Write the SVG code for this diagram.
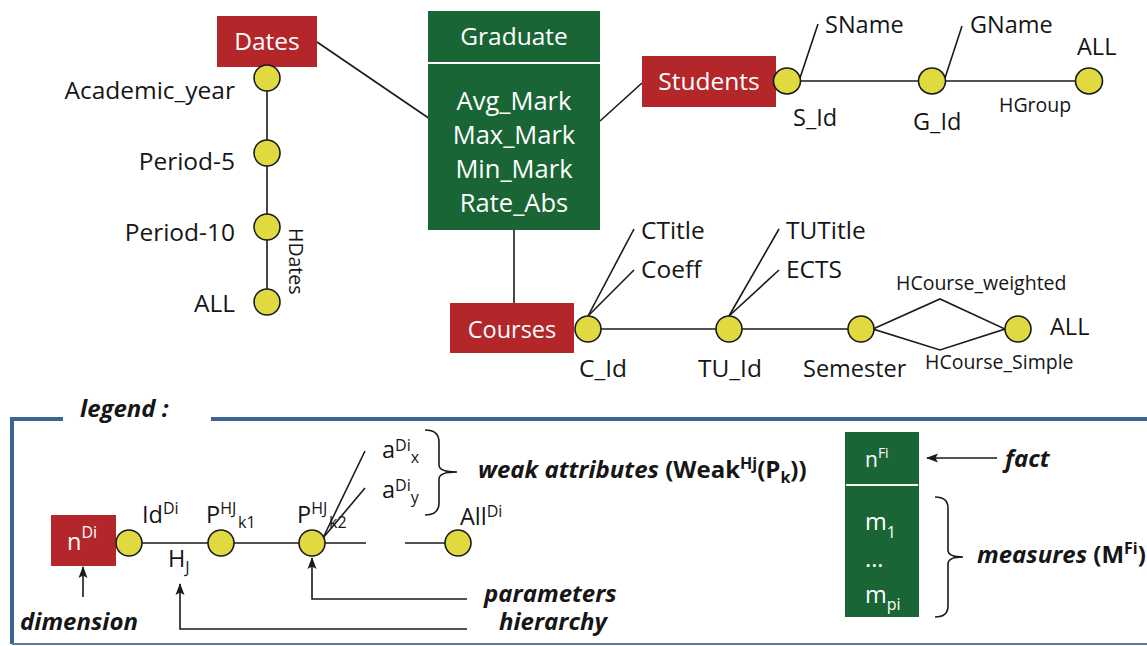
<svg xmlns="http://www.w3.org/2000/svg" width="1147" height="646" viewBox="0 0 1147 646">
<style>
text{font-family:"Open Sans","Noto Sans",sans-serif;fill:#161616}
.l{font-size:23.5px}
.lg{font-size:24.5px}
.m{font-size:25.5px}
.s{font-size:19.5px}
.w{fill:#fff}
.c{text-anchor:middle}
.e{text-anchor:end}
.bi{font-weight:bold;font-style:italic;font-size:24px}
.b{font-weight:bold;font-style:normal}
.sp{font-size:16px}
.red{fill:#b3262a}
.grn{fill:#196535}
.dot{fill:#e0da40;stroke:#1a1a1a;stroke-width:1.6}
.ln{stroke:#1a1a1a;stroke-width:1.6;fill:none}
.wl{stroke:#fff;stroke-width:2}
.leg{stroke:#3e6592;stroke-width:4;fill:none}
</style>
<defs>
<marker id="ah" markerWidth="12" markerHeight="10" refX="11" refY="5" orient="auto" markerUnits="userSpaceOnUse"><path d="M0,0.5 L12,5 L0,9.5 L2.5,5 z" fill="#1a1a1a"/></marker>
</defs>

<g id="connectors">
<line class="ln" x1="317" y1="42" x2="430" y2="119"/>
<line class="ln" x1="600" y1="121" x2="642" y2="83"/>
<line class="ln" x1="514" y1="230" x2="514" y2="303"/>
</g>

<g id="dates">
<rect class="red" x="217" y="16" width="100" height="51"/>
<text class="lg w c" x="267" y="50">Dates</text>
</g>
<g id="hdates">
<line class="ln" x1="267" y1="78" x2="267" y2="302"/>
<ellipse class="dot" cx="267" cy="78" rx="13" ry="13"/>
<ellipse class="dot" cx="267" cy="153" rx="13" ry="13"/>
<ellipse class="dot" cx="267" cy="227" rx="13" ry="13"/>
<ellipse class="dot" cx="267" cy="302" rx="13" ry="13"/>
<text class="lg e" x="235" y="99">Academic_year</text>
<text class="lg e" x="235" y="170">Period-5</text>
<text class="lg e" x="235" y="241">Period-10</text>
<text class="lg e" x="235" y="312">ALL</text>
<text class="s" transform="translate(289,228) rotate(90)">HDates</text>
</g>

<g id="graduate">
<rect class="grn" x="428" y="11" width="172" height="219"/>
<line class="wl" x1="428" y1="63" x2="600" y2="63"/>
<text class="lg w c" x="514" y="45">Graduate</text>
<text class="m w c" x="514" y="110">Avg_Mark</text>
<text class="m w c" x="514" y="144">Max_Mark</text>
<text class="m w c" x="514" y="178">Min_Mark</text>
<text class="m w c" x="514" y="212">Rate_Abs</text>
</g>

<g id="students">
<rect class="red" x="642" y="56" width="134" height="51"/>
<text class="lg w c" x="709" y="90">Students</text>
</g>
<g id="hgroup">
<line class="ln" x1="787" y1="81" x2="1089" y2="81"/>
<line class="ln" x1="800" y1="78" x2="818" y2="24"/>
<line class="ln" x1="945" y1="78" x2="962" y2="26"/>
<ellipse class="dot" cx="787" cy="81" rx="13.5" ry="13"/>
<ellipse class="dot" cx="932" cy="81" rx="13.5" ry="13"/>
<ellipse class="dot" cx="1089" cy="81" rx="13.5" ry="13"/>
<text class="l" x="825" y="33">SName</text>
<text class="l" x="970" y="33">GName</text>
<text class="l" x="1077" y="55">ALL</text>
<text class="l" x="793" y="126">S_Id</text>
<text class="l" x="913" y="130">G_Id</text>
<text class="s" x="999" y="112">HGroup</text>
</g>

<g id="courses">
<rect class="red" x="450" y="303" width="124" height="50"/>
<text class="l w c" x="512" y="338">Courses</text>
</g>
<g id="hcourse">
<line class="ln" x1="588" y1="329" x2="861" y2="329"/>
<path class="ln" d="M873,329 L940,299 L1005,329 L940,350 Z"/>
<line class="ln" x1="588" y1="316" x2="634" y2="229"/>
<line class="ln" x1="588" y1="316" x2="634" y2="270"/>
<line class="ln" x1="729" y1="316" x2="779" y2="229"/>
<line class="ln" x1="729" y1="316" x2="779" y2="270"/>
<ellipse class="dot" cx="588" cy="329" rx="13" ry="13"/>
<ellipse class="dot" cx="729" cy="329" rx="13" ry="13"/>
<ellipse class="dot" cx="861" cy="329" rx="13" ry="13"/>
<ellipse class="dot" cx="1018" cy="329" rx="13" ry="13"/>
<text class="lg" x="641" y="239">CTitle</text>
<text class="lg" x="641" y="278">Coeff</text>
<text class="lg" x="786" y="239">TUTitle</text>
<text class="lg" x="786" y="278">ECTS</text>
<text class="lg" x="579" y="377">C_Id</text>
<text class="lg" x="698" y="377">TU_Id</text>
<text class="l" x="803" y="377">Semester</text>
<text class="l" x="1050" y="335">ALL</text>
<text class="s" x="896" y="290">HCourse_weighted</text>
<text class="s" x="925" y="369">HCourse_Simple</text>
</g>

<g id="legend">
<path class="leg" d="M63,419 H12 V644"/>
<path class="leg" d="M211,419 H1150"/>
<line x1="12" y1="644" x2="1147" y2="644" stroke="#5a7aa3" stroke-width="2"/>
<text class="bi" x="80" y="417">legend :</text>

<g id="legend-dimension">
<rect class="red" x="51" y="515" width="65" height="51"/>
<text class="l w" x="67" y="550">n<tspan class="sp w" dy="-12">Di</tspan></text>
</g>
<g id="legend-hierarchy">
<line class="ln" x1="129" y1="543" x2="366" y2="543"/>
<line class="ln" x1="405" y1="543" x2="458" y2="543"/>
<line class="ln" x1="323" y1="538" x2="365" y2="451"/>
<line class="ln" x1="323" y1="538" x2="365" y2="488"/>
<ellipse class="dot" cx="129" cy="543" rx="13" ry="13"/>
<ellipse class="dot" cx="221" cy="543" rx="13" ry="13"/>
<ellipse class="dot" cx="312" cy="543" rx="13" ry="13"/>
<ellipse class="dot" cx="458" cy="543" rx="13" ry="13"/>
<text class="l" x="142" y="523">Id<tspan class="sp" dy="-9">Di</tspan></text>
<text class="l" x="168" y="567">H<tspan class="sp" dy="6">J</tspan></text>
<text class="l" x="206" y="523">P<tspan class="sp" dy="-9">HJ</tspan><tspan class="sp" x="238" dy="14">k1</tspan></text>
<text class="l" x="297" y="523">P<tspan class="sp" dy="-9">HJ</tspan><tspan class="sp" x="329" dy="14">k2</tspan></text>
<text class="l" x="382" y="458">a<tspan class="sp" dy="-7">Di</tspan><tspan class="sp" dy="12">x</tspan></text>
<text class="l" x="382" y="498">a<tspan class="sp" dy="-7">Di</tspan><tspan class="sp" dy="12">y</tspan></text>
<text class="l" x="460" y="525">All<tspan class="sp" dy="-8">Di</tspan></text>
<path class="ln" d="M425,430 Q439,430 439,442 V465 Q439,472 457,472 Q439,472 439,479 V503 Q439,515 425,515"/>
</g>
<g id="legend-fact">
<rect class="grn" x="845" y="432" width="74" height="185"/>
<line class="wl" x1="846" y1="485" x2="918" y2="485"/>
<text class="l w" x="865" y="467" style="font-size:21px">n<tspan class="sp w" dy="-9" style="font-size:14px">Fi</tspan></text>
<text class="l w" x="865" y="530">m<tspan class="sp w" dy="8">1</tspan></text>
<text class="l w" x="865" y="567">...</text>
<text class="l w" x="865" y="603">m<tspan class="sp w" dy="7">pi</tspan></text>
<path class="ln" d="M935,497 Q948,497 948,508 V550 Q948,557 963,557 Q948,557 948,564 V606 Q948,617 935,617"/>
</g>
<g id="legend-annotations">
<line class="ln" x1="83" y1="597" x2="83" y2="567" marker-end="url(#ah)"/>
<line class="ln" x1="997" y1="458" x2="927" y2="458" marker-end="url(#ah)"/>
<path class="ln" d="M467,599 H312 V558" marker-end="url(#ah)"/>
<path class="ln" d="M467,629 H180 V584" marker-end="url(#ah)"/>
<text class="bi" x="20" y="630">dimension</text>
<text class="bi" x="484" y="602">parameters</text>
<text class="bi" x="499" y="630">hierarchy</text>
<text class="bi" x="1005" y="467">fact</text>
<text class="bi" x="478" y="478">weak attributes <tspan class="b">(Weak<tspan class="sp" dy="-9">Hj</tspan><tspan dy="9">(P</tspan><tspan class="sp" dy="5">k</tspan><tspan dy="-5">))</tspan></tspan></text>
<text class="bi" x="977" y="563">measures <tspan class="b">(M<tspan class="sp" dy="-9">Fi</tspan><tspan dy="9">)</tspan></tspan></text>
</g>
</g>
</svg>
